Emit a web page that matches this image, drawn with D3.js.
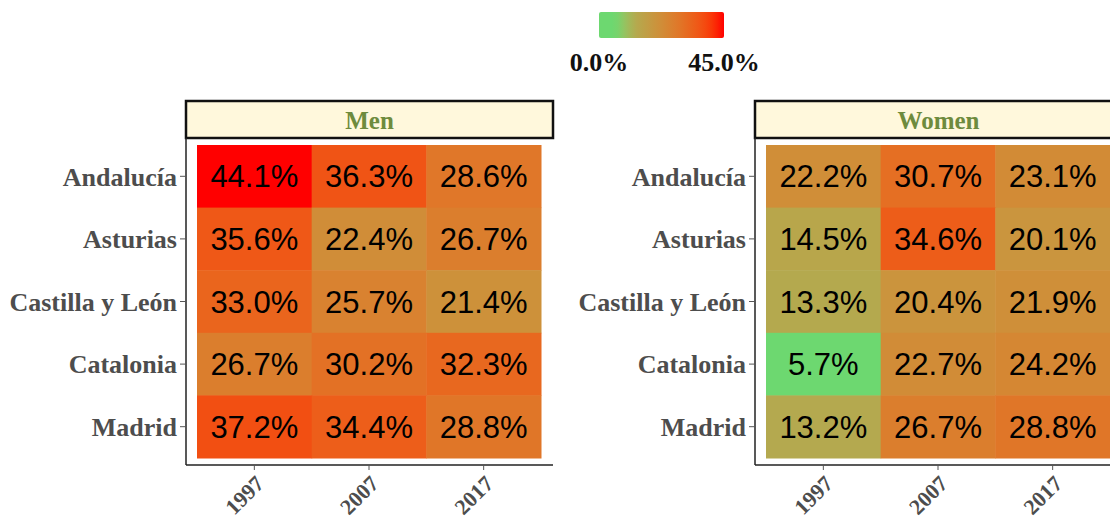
<!DOCTYPE html>
<html lang="en">
<head>
<meta charset="utf-8">
<title>Heatmap by region and year</title>
<style>
    body { margin: 0; background: #fff; }
    .ylab { font-family: "Liberation Serif", serif; font-weight: bold; font-size: 26px; fill: #4d4d4d; }
    .xlab { font-family: "Liberation Serif", serif; font-weight: bold; font-size: 22px; fill: #4d4d4d; }
    .strip { font-family: "Liberation Serif", serif; font-weight: bold; font-size: 25px; fill: #6E8B3D; }
    .cell { font-family: "Liberation Sans", Arial, sans-serif; font-size: 31px; fill: #000; }
    .leg { font-family: "Liberation Serif", serif; font-weight: bold; font-size: 26px; fill: #111; }
</style>
</head>
<body>
<script src="https://cdn.jsdelivr.net/npm/d3@7"></script>
<script>
    // data
    var regions = ["Andalucía", "Asturias", "Castilla y León", "Catalonia", "Madrid"];
    var years = ["1997", "2007", "2017"];
    var sexes = ["Men", "Women"];
    var men = [
        [44.1, 36.3, 28.6],
        [35.6, 22.4, 26.7],
        [33.0, 25.7, 21.4],
        [26.7, 30.2, 32.3],
        [37.2, 34.4, 28.8]
    ];
    var women = [
        [22.2, 30.7, 23.1],
        [14.5, 34.6, 20.1],
        [13.3, 20.4, 21.9],
        [5.7, 22.7, 24.2],
        [13.2, 26.7, 28.8]
    ];
    var legendTicks = [0, 45];

    var W = 1110, H = 521;
    var svg = d3.select("body").append("svg")
        .attr("width", W)
        .attr("height", H);

    // green -> olive -> red gradient over 0..45 %
    var color = d3.scaleLinear()
        .domain([0, 6, 13, 44])
        .range(["#6dd870", "#6dd870", "#b3aa4f", "#ff0000"])
        .interpolate(d3.interpolateLab)
        .clamp(true);

    // panel geometry
    var panelW = 367, panelH = 327, panelTop = 138;
    var panelLeft = [186, 755];

    var x = d3.scaleBand().domain(years).range([11, panelW - 12]);
    var y = d3.scaleBand().domain(regions).range([7, panelH - 7]);

    var fmt = function(v) { return v.toFixed(1) + "%"; };

    sexes.forEach(function(sex, si) {
        var vals = si === 0 ? men : women;
        var cells = [];
        regions.forEach(function(r, i) {
            years.forEach(function(yr, j) {
                cells.push({ region: r, year: yr, value: vals[i][j] });
            });
        });

        var g = svg.append("g")
            .attr("transform", "translate(" + panelLeft[si] + "," + panelTop + ")");

        // strip
        g.append("rect")
            .attr("x", 0).attr("y", -37)
            .attr("width", panelW).attr("height", 37)
            .attr("fill", "#FFF8DC")
            .attr("stroke", "#111")
            .attr("stroke-width", 2.5);
        g.append("text")
            .attr("class", "strip")
            .attr("x", panelW / 2).attr("y", -9)
            .attr("text-anchor", "middle")
            .text(sex);

        // tiles
        g.selectAll("rect.tile")
            .data(cells)
            .enter().append("rect")
            .attr("class", "tile")
            .attr("x", function(d) { return x(d.year); })
            .attr("y", function(d) { return y(d.region); })
            .attr("width", x.bandwidth() + 0.5)
            .attr("height", y.bandwidth() + 0.5)
            .attr("fill", function(d) { return color(d.value); });

        g.selectAll("text.cell")
            .data(cells)
            .enter().append("text")
            .attr("class", "cell")
            .attr("x", function(d) { return x(d.year) + x.bandwidth() / 2; })
            .attr("y", function(d) { return y(d.region) + y.bandwidth() / 2; })
            .attr("dy", "0.36em")
            .attr("text-anchor", "middle")
            .text(function(d) { return fmt(d.value); });

        // axes
        var yAxis = g.append("g")
            .call(d3.axisLeft(y).tickSize(6).tickPadding(3));
        yAxis.select(".domain").attr("d", "M0,0V" + panelH).attr("stroke", "#222").attr("stroke-width", 1.5);
        yAxis.selectAll(".tick line").attr("stroke", "#555");
        yAxis.selectAll(".tick text")
            .attr("class", "ylab")
            .attr("font-family", null).attr("font-size", null).attr("fill", null)
            .attr("dy", "0.36em");

        var xAxis = g.append("g")
            .attr("transform", "translate(0," + panelH + ")")
            .call(d3.axisBottom(x).tickSize(5));
        xAxis.select(".domain").attr("d", "M0,0H" + panelW).attr("stroke", "#222").attr("stroke-width", 1.5);
        xAxis.selectAll(".tick line").attr("stroke", "#555");
        xAxis.selectAll(".tick text")
            .attr("class", "xlab")
            .attr("font-family", null).attr("font-size", null).attr("fill", null)
            .attr("y", 0).attr("dy", null)
            .attr("text-anchor", "end")
            .attr("transform", "translate(11,20) rotate(-45)");
    });

    // legend
    var legX = 599, legW = 125, legY = 12, legH = 26;
    var grad = svg.append("defs").append("linearGradient")
        .attr("id", "legGrad");
    d3.range(0, 1.0001, 0.05).forEach(function(t) {
        grad.append("stop")
            .attr("offset", (t * 100) + "%")
            .attr("stop-color", color(t * 45));
    });
    svg.append("rect")
        .attr("x", legX).attr("y", legY)
        .attr("width", legW).attr("height", legH)
        .attr("rx", 2)
        .attr("fill", "url(#legGrad)");
    var lx = d3.scaleLinear().domain(legendTicks).range([legX, legX + legW]);
    svg.selectAll("text.leg")
        .data(legendTicks)
        .enter().append("text")
        .attr("class", "leg")
        .attr("x", function(d) { return lx(d); })
        .attr("y", 71)
        .attr("text-anchor", "middle")
        .text(function(d) { return d.toFixed(1) + "%"; });
</script>
</body>
</html>
